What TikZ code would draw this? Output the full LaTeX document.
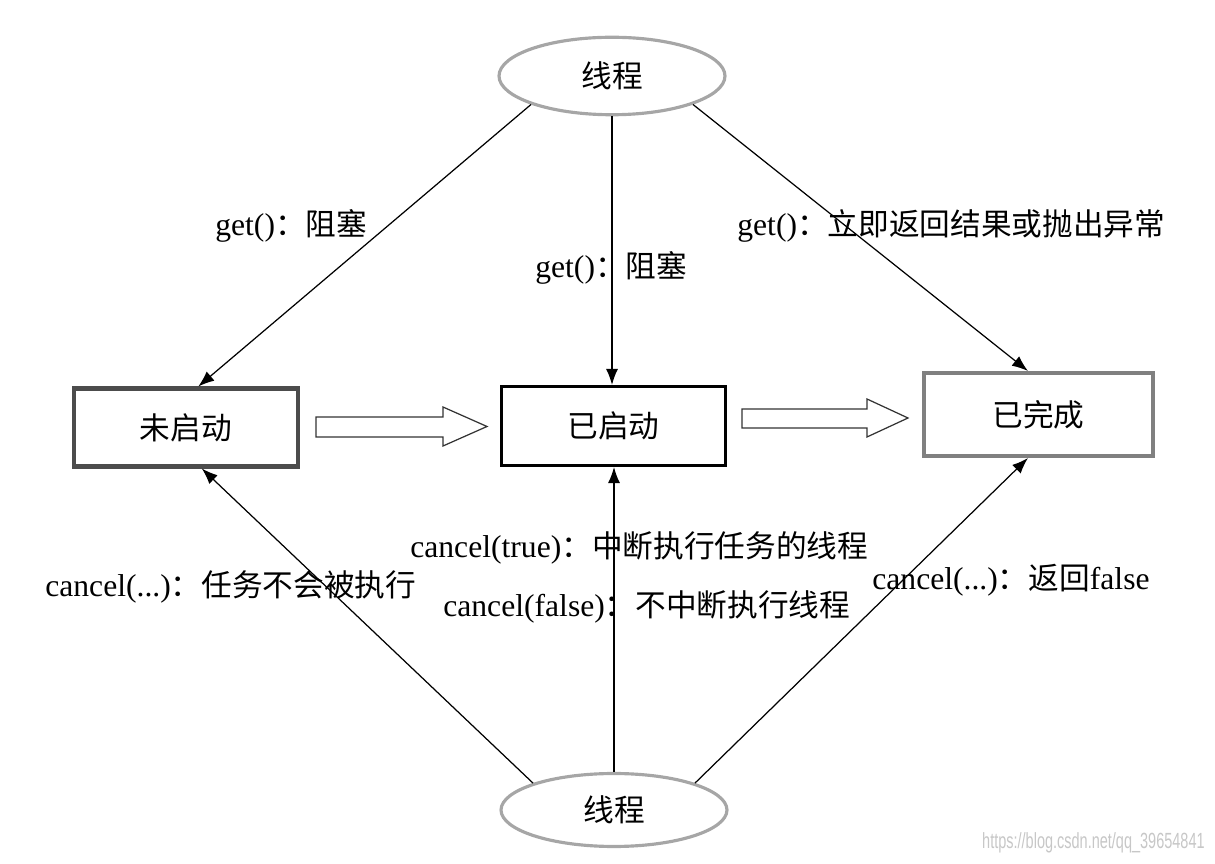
\documentclass[tikz,border=0pt]{standalone}
\usepackage{fontspec}
\setmainfont{Liberation Serif}
\newfontfamily\cjk[Scale=0.97]{Noto Sans CJK SC}
\newfontfamily\marksans{Liberation Sans}
\usepackage{tikz}
\usetikzlibrary{positioning}
\usetikzlibrary{shapes.geometric}
\usetikzlibrary{arrows.meta}

\tikzset{
	thread/.style={ellipse, draw=black!35, line width=1.8pt, inner sep=0pt, minimum width=4.52cm, minimum height=1.55cm},
	statebox/.style={rectangle, draw, fill=white, inner sep=0pt, minimum width=4.48cm, minimum height=1.56cm},
	call/.style={-{Latex[length=0.32cm,width=0.24cm]}, line width=0.7pt},
	hollow/.style={draw=black!80, line width=0.7pt, fill=white},
	calltext/.style={anchor=west, inner sep=0pt}
}

\begin{document}
\begin{tikzpicture}[x=0.02cm, y=-0.02cm, font=\fontsize{18}{20}\selectfont]
		\useasboundingbox (0,0) rectangle (1215,864);

		% threads
		\node[thread](topThread) at (612,76){\cjk 线程};
		\node[thread, minimum height=1.46cm](bottomThread) at (614,810){\cjk 线程};

		% states
		\node[statebox, draw=black!70, line width=2.3pt](notStarted) at (186,427.5){\cjk 未启动};
		\node[statebox, draw=black, line width=1.8pt, minimum height=1.58cm](started) at (613.5,426){\cjk 已启动};
		\node[statebox, draw=black!50, line width=2.3pt, minimum width=4.58cm, minimum height=1.66cm](done) at (1038.5,414.5){\cjk 已完成};

		% draw hollow arrows
		\draw[hollow] (316,417) -- (443,417) -- (443,407) -- (487,426.5) -- (443,446) -- (443,437) -- (316,437) -- cycle;
		\draw[hollow] (742,409) -- (867,409) -- (867,399) -- (908,418) -- (867,437) -- (867,428) -- (742,428) -- cycle;

		% draw get edges
		\draw[call] (topThread.south west) -- ([xshift=7]notStarted.north);
		\draw[call] (topThread.south) -- (topThread.south |- started.north);
		\draw[call] (topThread.south east) -- ([xshift=-6]done.north);

		% draw cancel edges
		\draw[call] (bottomThread.north west) -- ([xshift=9]notStarted.south);
		\draw[call] (bottomThread.north) -- (bottomThread.north |- started.south);
		\draw[call] (bottomThread.north east) -- ([xshift=-6]done.south);

		% labels
		\node[calltext](getBlockLeft) at (215,226){get(){\cjk ：阻塞}};
		\node[calltext](getBlockMid) at (535,268){get(){\cjk ：阻塞}};
		\node[calltext](getDone) at (737,226){get(){\cjk ：立即返回结果或抛出异常}};
		\node[calltext](cancelTrue) at (410,548){cancel(true){\cjk ：中断执行任务的线程}};
		\node[calltext](cancelFalse) at (443,607){cancel(false){\cjk ：不中断执行线程}};
		\node[calltext](cancelLeft) at (45,587){cancel(...){\cjk ：任务不会被执行}};
		\node[calltext](cancelRight) at (872,580){cancel(...){\cjk ：返回}false};

		% watermark
		\node[anchor=east, inner sep=0pt, text=black!22](mark) at (1205,843){\marksans\fontsize{12.5}{14}\selectfont\scalebox{0.66}[1]{https://blog.csdn.net/qq\_39654841}};

	\end{tikzpicture}
\end{document}
